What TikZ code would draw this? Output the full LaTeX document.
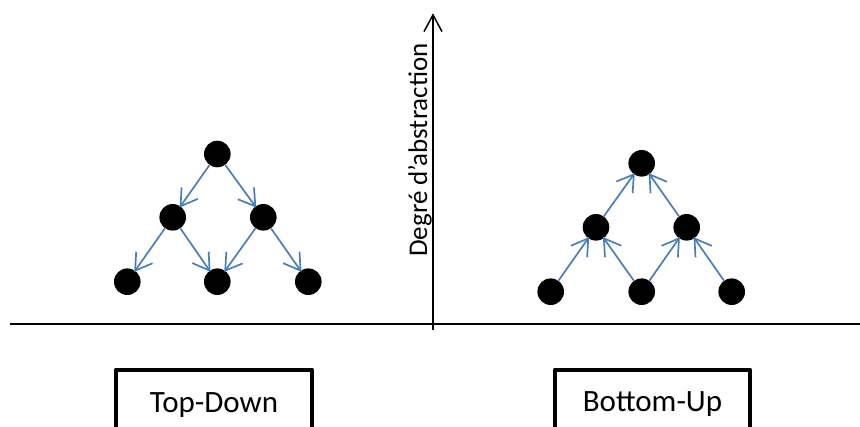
\documentclass[tikz,border=0pt]{standalone}
\usepackage{fontspec}
\setmainfont{Carlito}
\usetikzlibrary{arrows.meta}
\definecolor{arrowblue}{HTML}{4A7EBB}
\tikzset{
  dot/.style={circle,fill=black,inner sep=0pt,minimum size=26.6pt},
  flow/.style={draw=arrowblue,line width=1.7pt,-{Straight Barb[length=16pt,width=20pt]},shorten >=-1.5pt},
  axis/.style={draw=black,line width=1.5pt},
  frame/.style={draw=black,line width=4pt,line join=round},
  boxtext/.style={anchor=base,font=\fontsize{31}{37}\selectfont,inner sep=0pt}
}
\begin{document}
\begin{tikzpicture}[x=1pt,y=-1pt]
\clip (0,0) rectangle (860,426);
% axes
\coordinate (hl) at (10,324);
\coordinate (hr) at (862,324);
\coordinate (vb) at (433,330);
\coordinate (vt) at (433,13.3);
\draw[axis] (hl) -- (hr);
\draw[axis,-{Straight Barb[length=16.7pt,width=18pt]}] (vb) -- (vt);
\node[rotate=90,anchor=base,inner sep=0pt,font=\fontsize{27}{32}\selectfont] (lab) at (427,150) {Degré d’abstraction};
% left tree (top-down)
\node[dot] (t1) at (217.3,154) {};
\node[dot] (t2) at (172.7,217.3) {};
\node[dot] (t3) at (263.3,217.3) {};
\node[dot] (t4) at (127.3,281.7) {};
\node[dot] (t5) at (217.3,281.7) {};
\node[dot] (t6) at (308.3,281.7) {};
\draw[flow] (t1) -- (t2);
\draw[flow] (t1) -- (t3);
\draw[flow] (t2) -- (t4);
\draw[flow] (t2) -- (t5);
\draw[flow] (t3) -- (t5);
\draw[flow] (t3) -- (t6);
% right tree (bottom-up)
\node[dot] (b1) at (641.7,163.3) {};
\node[dot] (b2) at (596,227.3) {};
\node[dot] (b3) at (686.7,227.3) {};
\node[dot] (b4) at (550.7,291.7) {};
\node[dot] (b5) at (641.7,291.7) {};
\node[dot] (b6) at (731.7,291.7) {};
\draw[flow] (b2) -- (b1);
\draw[flow] (b3) -- (b1);
\draw[flow] (b4) -- (b2);
\draw[flow] (b5) -- (b2);
\draw[flow] (b5) -- (b3);
\draw[flow] (b6) -- (b3);
% boxes
\draw[frame] (116,440) -- (116,369.5) -- (312,369.5) -- (312,440);
\node[boxtext] (td) at (214,412) {Top-Down};
\draw[frame] (555,440) -- (555,369.5) -- (750,369.5) -- (750,440);
\node[boxtext] (bu) at (652.5,411) {Bottom-Up};
\end{tikzpicture}
\end{document}
